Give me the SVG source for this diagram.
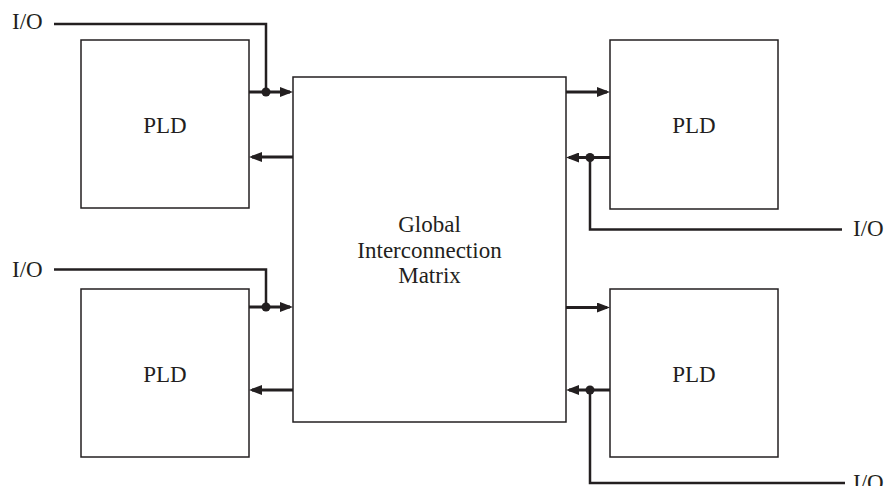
<svg xmlns="http://www.w3.org/2000/svg" width="888" height="486" viewBox="0 0 888 486">
<defs>
<marker id="arr" viewBox="0 0 13 10" refX="10" refY="5" markerWidth="13" markerHeight="10" markerUnits="userSpaceOnUse" orient="auto"><path d="M0,0 L13,5 L0,10 z" fill="#231f20"/></marker>
<style>
.box{fill:#fff;stroke:#231f20;stroke-width:1.5}
.txt{font-family:"Liberation Serif","Times New Roman",serif;font-size:23px;fill:#231f20}
.w{fill:none;stroke:#231f20;stroke-width:3}
.io{fill:none;stroke:#231f20;stroke-width:2.5}
.dot{fill:#231f20}
</style>
</defs>
<rect width="888" height="486" fill="#fff"/>
<g id="gim">
<rect class="box" x="293" y="77" width="273" height="345"/>
<text class="txt" text-anchor="middle" x="429.5" y="232">Global</text>
<text class="txt" text-anchor="middle" x="429.5" y="258">Interconnection</text>
<text class="txt" text-anchor="middle" x="429.5" y="283">Matrix</text>
</g>
<g id="pld1"><rect class="box" x="81" y="40" width="168" height="168"/><text class="txt" text-anchor="middle" x="165" y="133">PLD</text></g>
<g id="pld2"><rect class="box" x="610" y="40" width="168" height="169"/><text class="txt" text-anchor="middle" x="694" y="133">PLD</text></g>
<g id="pld3"><rect class="box" x="81" y="289" width="168" height="168"/><text class="txt" text-anchor="middle" x="165" y="382">PLD</text></g>
<g id="pld4"><rect class="box" x="610" y="289" width="168" height="168"/><text class="txt" text-anchor="middle" x="694" y="382">PLD</text></g>
<g id="io-labels">
<text class="txt" x="12" y="29">I/O</text>
<text class="txt" x="12" y="277">I/O</text>
<text class="txt" x="853" y="236">I/O</text>
<text class="txt" x="853" y="490">I/O</text>
</g>
<g id="connectors">
<line class="w" x1="249" y1="92" x2="290" y2="92" marker-end="url(#arr)"/>
<line class="w" x1="293" y1="157" x2="252" y2="157" marker-end="url(#arr)"/>
<line class="w" x1="249" y1="307" x2="290" y2="307" marker-end="url(#arr)"/>
<line class="w" x1="293" y1="390" x2="252" y2="390" marker-end="url(#arr)"/>
<line class="w" x1="566" y1="92" x2="607" y2="92" marker-end="url(#arr)"/>
<line class="w" x1="610" y1="157.5" x2="569" y2="157.5" marker-end="url(#arr)"/>
<line class="w" x1="566" y1="307.5" x2="607" y2="307.5" marker-end="url(#arr)"/>
<line class="w" x1="610" y1="390" x2="569" y2="390" marker-end="url(#arr)"/>
<path class="io" d="M54,24 H266 V92"/>
<path class="io" d="M54,269.5 H266 V307"/>
<path class="io" d="M590,157.5 V229.5 H842"/>
<path class="io" d="M590,390 V483 H845"/>
<circle class="dot" cx="266" cy="92" r="4.5"/>
<circle class="dot" cx="266" cy="307" r="4.5"/>
<circle class="dot" cx="590" cy="157.5" r="4.5"/>
<circle class="dot" cx="590" cy="390" r="4.5"/>
</g>
</svg>
